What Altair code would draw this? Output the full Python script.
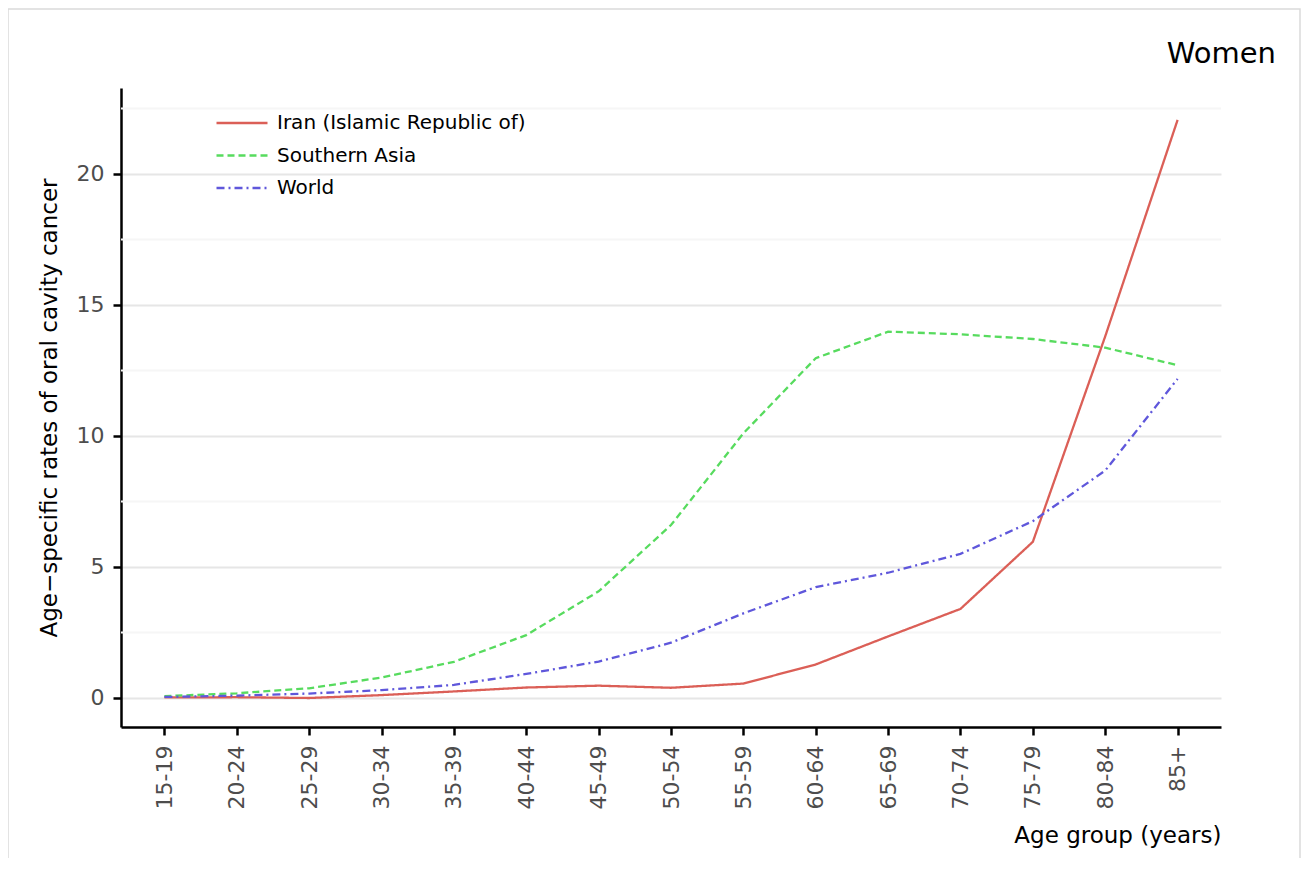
import altair as alt
import pandas as pd

ages = ["15-19", "20-24", "25-29", "30-34", "35-39", "40-44", "45-49", "50-54",
        "55-59", "60-64", "65-69", "70-74", "75-79", "80-84", "85+"]
series_names = ["Iran (Islamic Republic of)", "Southern Asia", "World"]
iran = [0.02, 0.03, 0.0, 0.11, 0.25, 0.4, 0.47, 0.39, 0.55, 1.28, 2.35, 3.4, 5.96, 13.8, 22.06]
southern_asia = [0.07, 0.18, 0.37, 0.78, 1.38, 2.4, 4.07, 6.6, 10.1, 12.97, 13.98, 13.88, 13.7, 13.37, 12.7]
world = [0.04, 0.09, 0.17, 0.3, 0.5, 0.92, 1.39, 2.11, 3.23, 4.23, 4.78, 5.5, 6.75, 8.68, 12.18]
y_major = [0, 5, 10, 15, 20]
y_minor = [2.5, 7.5, 12.5, 17.5, 22.5]
panel_title = ["Women"]

colors = ["#DB5F57", "#57DB5E", "#5F57DB"]
dashes = [[1, 0], [7, 4], [8, 4, 2, 4]]

rows = []
for name, vals in zip(series_names, [iran, southern_asia, world]):
    for a, v in zip(ages, vals):
        rows.append({"age": a, "rate": v, "series": name})
df = pd.DataFrame(rows)
minor_df = pd.DataFrame({"rate": y_minor})
title_df = pd.DataFrame({"label": panel_title})

FONT = "DejaVu Sans"
yscale = alt.Scale(domain=[-1.107, 23.28], nice=False, zero=False)

legend = alt.Legend(
    orient="none", legendX=94, legendY=25, title=None,
    symbolType="stroke", symbolSize=2601, symbolStrokeWidth=2.3,
    clipHeight=20, rowPadding=12.5, labelFontSize=20, labelFont=FONT,
    labelColor="black", labelOffset=8, labelLimit=500, padding=0,
)

frame = alt.Chart(alt.Data(values=[{}])).mark_rect(
    filled=False, stroke="#dadada", strokeWidth=1.5
).encode(
    x=alt.value(-113), x2=alt.value(1179), y=alt.value(-79), y2=alt.value(900)
)

minor = alt.Chart(minor_df).mark_rule(color="#f6f6f6", strokeWidth=2).encode(
    y=alt.Y("rate:Q", scale=yscale)
)

lines = alt.Chart(df).mark_line(strokeWidth=2.3).encode(
    x=alt.X(
        "age:N", sort=ages, scale=alt.Scale(type="point", padding=0.6),
        axis=alt.Axis(
            title="Age group (years)", titleAnchor="end", titleFontSize=23,
            titleFont=FONT, titleFontWeight="normal", titleColor="black",
            titlePadding=16, labelAngle=270, labelFontSize=22, labelFont=FONT,
            labelColor="#4d4d4d", labelPadding=10, tickSize=8, tickWidth=2.5,
            tickColor="black", domainColor="black", domainWidth=2.5, grid=False,
        ),
    ),
    y=alt.Y(
        "rate:Q", scale=yscale,
        axis=alt.Axis(
            values=y_major, title="Age\u2212specific rates of oral cavity cancer",
            titleFontSize=23, titleFont=FONT, titleFontWeight="normal",
            titleColor="black", titlePadding=15, labelFontSize=22, labelFont=FONT,
            labelColor="#4d4d4d", labelPadding=9, tickSize=8, tickWidth=2.5,
            tickColor="black", domainColor="black", domainWidth=2.5,
            grid=True, gridColor="#e6e6e6", gridWidth=2,
        ),
    ),
    color=alt.Color("series:N", scale=alt.Scale(domain=series_names, range=colors), legend=legend),
    strokeDash=alt.StrokeDash("series:N", scale=alt.Scale(domain=series_names, range=dashes), legend=legend),
)

women = alt.Chart(title_df).mark_text(
    font=FONT, fontSize=29, color="black", align="right", baseline="alphabetic"
).encode(
    text="label:N", x=alt.value(1155), y=alt.value(-25)
)

chart = alt.layer(frame, minor, lines, women).properties(
    width=1100, height=639,
    autosize=alt.AutoSizeParams(type="none"),
    padding={"left": 113, "top": 80, "right": 80, "bottom": 131},
).configure_view(strokeWidth=0)

chart.save("out.html", embed_options={"renderer": "svg", "actions": False})
